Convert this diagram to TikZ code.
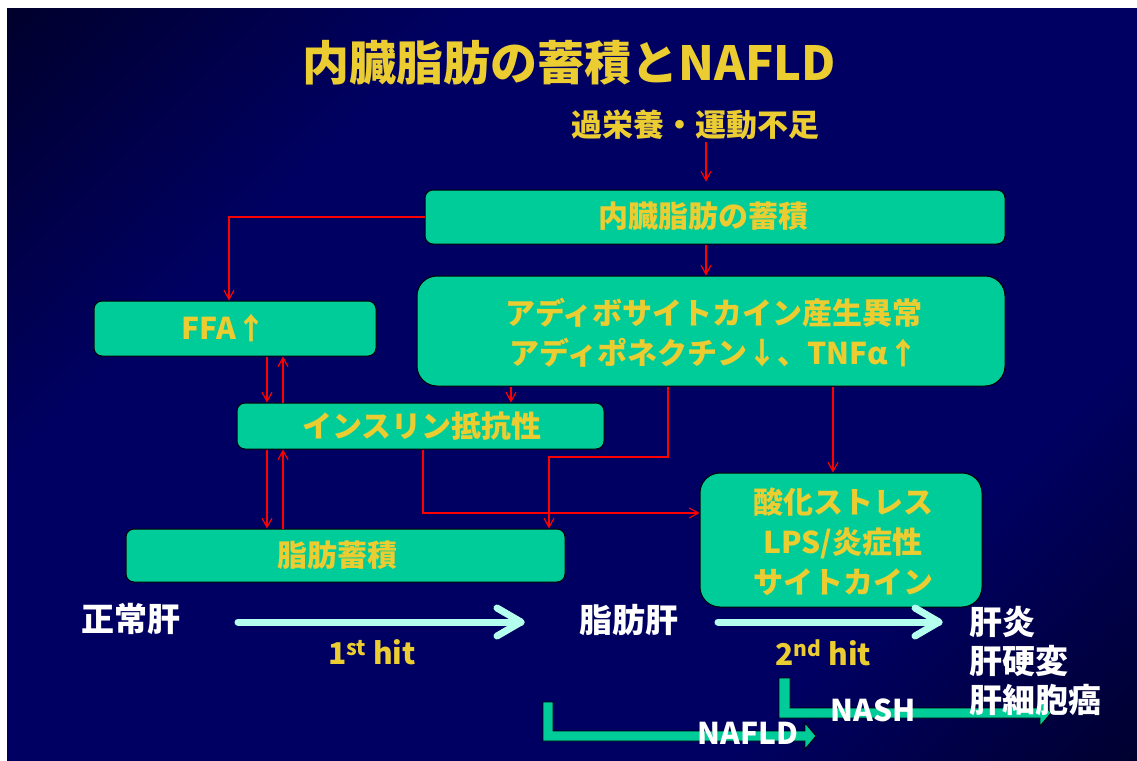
\documentclass[tikz,border=0pt]{standalone}
\usepackage{fontspec}
\setmainfont{Noto Sans CJK JP}
\usetikzlibrary{arrows.meta,calc}
\definecolor{bgnavy}{RGB}{0,0,98}
\definecolor{boxgreen}{RGB}{0,204,153}
\definecolor{txtyellow}{RGB}{235,205,50}
\definecolor{hitcyan}{RGB}{180,255,238}
\pgfdeclareverticalshading{slidebg}{100bp}{color(0bp)=(black); color(30bp)=(bgnavy); color(68bp)=(bgnavy); color(100bp)=(black)}
\tikzset{
  box/.style={draw=black, line width=1pt, fill=boxgreen, rounded corners=8pt, inner sep=0pt},
  bigbox/.style={box, rounded corners=20pt},
  ylabel/.style={text=txtyellow, font=\bfseries\fontsize{30}{40}\selectfont, align=center, inner sep=2pt},
  wlabel/.style={text=white, font=\bfseries\fontsize{33}{39}\selectfont, align=left, inner sep=2pt},
  redarr/.style={draw=red, line width=1.2pt, -{Straight Barb[length=9pt,width=10pt]}},
  hitline/.style={draw=hitcyan, line width=7pt, line cap=round, line join=round},
  greenarr/.style={draw=black, line width=0.8pt, fill=boxgreen},
}
\begin{document}
\begin{tikzpicture}[x=1pt,y=-1pt]
\useasboundingbox (0,0) rectangle (1137,760);
\fill[white] (0,0) rectangle (1137,760);
\shade[shading=slidebg, shading angle=45] (7,9) rectangle (1137,760);

% title
\node[text=txtyellow, font=\bfseries\fontsize{47}{50}\selectfont] (title) at (569,63) {内臓脂肪の蓄積とNAFLD};
\node[text=txtyellow, font=\bfseries\fontsize{31}{36}\selectfont, inner sep=2pt] (kaeiyo) at (695,125) {過栄養・運動不足};

% boxes
\node[box, minimum width=580pt, minimum height=54pt] (naizo) at (715,217) {};
\node[bigbox, minimum width=588pt, minimum height=110pt] (adipo) at (711,331) {};
\node[box, minimum width=282pt, minimum height=55pt] (ffa) at (235,328.5) {};
\node[box, minimum width=367pt, minimum height=46pt] (ins) at (420.5,426) {};
\node[box, minimum width=439pt, minimum height=53pt] (shibo) at (345.5,555.5) {};
\node[bigbox, minimum width=282pt, minimum height=134pt] (sanka) at (841,540) {};

% box texts
\node[ylabel] (naizoT) at (703,216) {内臓脂肪の蓄積};
\node[ylabel] (adipoT) at (714,333) {アディボサイトカイン産生異常\\アディポネクチン↓、TNFα↑};
\node[ylabel] (ffaT) at (224,328) {FFA↑};
\node[ylabel] (insT) at (422,426) {インスリン抵抗性};
\node[ylabel] (shiboT) at (337,555) {脂肪蓄積};
\node[ylabel] (sankaT) at (843,542) {酸化ストレス\\LPS/炎症性\\サイトカイン};

% column / row helpers
\coordinate (xk) at (706,0);
\coordinate (xffa) at (229,0);
\coordinate (xd) at (267,0);
\coordinate (xu) at (283,0);
\coordinate (xi1) at (511,0);
\coordinate (xi2) at (668,0);
\coordinate (xi3) at (549,0);
\coordinate (xi4) at (833,0);
\coordinate (xins) at (423,0);
\coordinate (yj) at (0,457);
\coordinate (yh) at (0,513);

% red connectors
\draw[redarr, shorten >=8pt] (kaeiyo.south -| xk) -- (naizo.north -| xk);
\draw[redarr] (naizo.south -| xk) -- (adipo.north -| xk);
\draw[redarr] (naizo.west) -| (ffa.north -| xffa);
\draw[redarr] (ffa.south -| xd) -- (ins.north -| xd);
\draw[redarr] (ins.north -| xu) -- (ffa.south -| xu);
\draw[redarr] (ins.south -| xd) -- (shibo.north -| xd);
\draw[redarr] (shibo.north -| xu) -- (ins.south -| xu);
\draw[redarr] (adipo.south -| xi1) -- (ins.north -| xi1);
\draw[redarr] (adipo.south -| xi2) |- (yj -| xi3) -- (shibo.north -| xi3);
\draw[redarr] (adipo.south -| xi4) -- (sanka.north -| xi4);
\draw[redarr] (ins.south -| xins) |- (sanka.west |- yh);

% bottom stage labels
\node[wlabel] (seijo) at (131,619) {正常肝};
\node[wlabel] (shiboK) at (629,620) {脂肪肝};

% hit arrows
\coordinate (h1s) at (238,622);
\coordinate (h1e) at (521,622);
\coordinate (h2s) at (718,622);
\coordinate (h2e) at (939,622);
\draw[hitline] (h1s) -- (h1e);
\draw[hitline] ($(h1e)+(-24,-14)$) -- (h1e) -- ($(h1e)+(-24,14)$);
\draw[hitline] (h2s) -- (h2e);
\draw[hitline] ($(h2e)+(-24,-14)$) -- (h2e) -- ($(h2e)+(-24,14)$);
\node[text=txtyellow, font=\bfseries\fontsize{30}{36}\selectfont] (hit1) at (372,652) {1\textsuperscript{st} hit};
\node[text=txtyellow, font=\bfseries\fontsize{30}{36}\selectfont] (hit2) at (823,653) {2\textsuperscript{nd} hit};

% NAFLD / NASH brackets
\draw[greenarr] (543,702) -- (553,702) -- (553,731) -- (805,731) -- (805,723) -- (816,736) -- (805,749) -- (805,741) -- (543,741) -- cycle;
\draw[greenarr] (779,678) -- (790,678) -- (790,708) -- (1040,708) -- (1040,700) -- (1051,713) -- (1040,726) -- (1040,718) -- (779,718) -- cycle;
\node[text=white, font=\bfseries\fontsize{30}{36}\selectfont] (nafld) at (748,733) {NAFLD};
\node[text=white, font=\bfseries\fontsize{30}{36}\selectfont] (nash) at (873,710) {NASH};
\node[wlabel, anchor=west] (kan) at (967,661) {肝炎\\肝硬変\\肝細胞癌};
\end{tikzpicture}
\end{document}
